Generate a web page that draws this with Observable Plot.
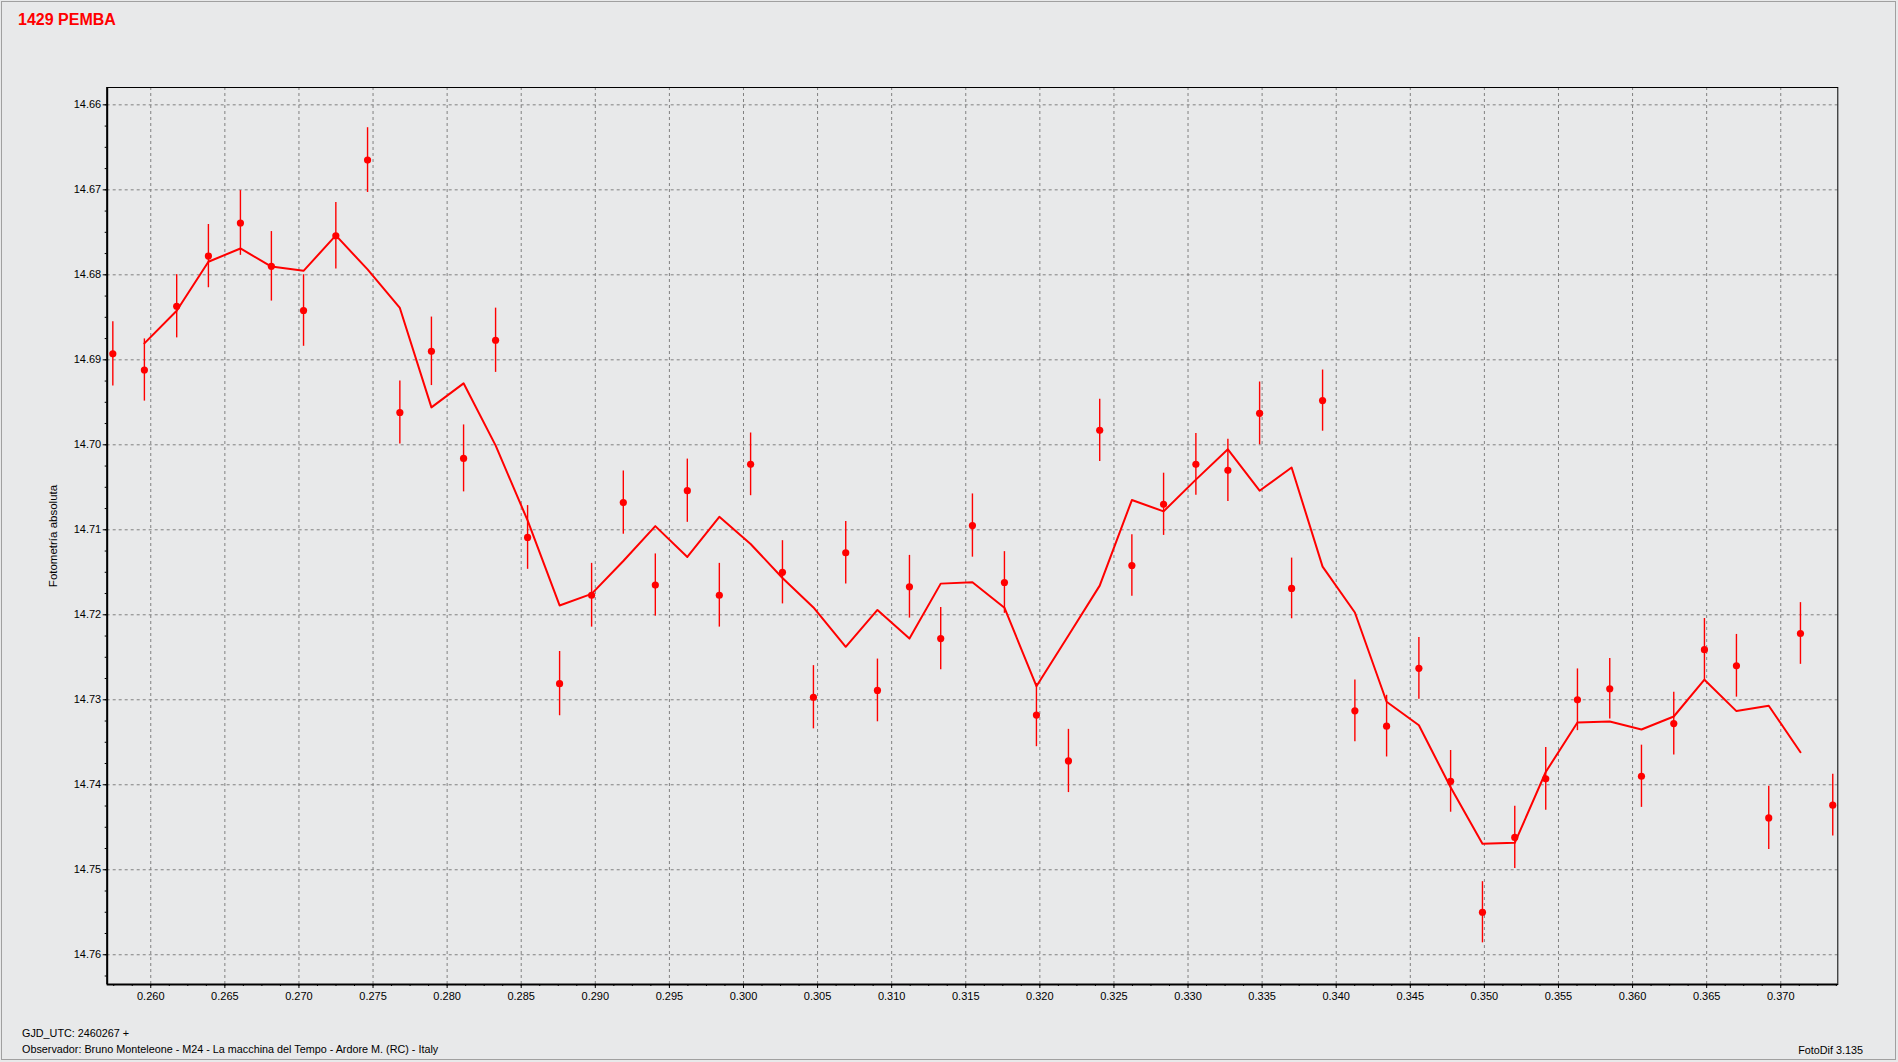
<!DOCTYPE html>
<html>
<head>
<meta charset="utf-8">
<script src="https://cdn.jsdelivr.net/npm/d3@7"></script>
<script src="https://cdn.jsdelivr.net/npm/@observablehq/plot@0.6"></script>
<style>
  html, body { margin: 0; padding: 0; background: #e8e9ea; }
  #wrap { position: relative; width: 1898px; height: 1062px; overflow: hidden; background: #e8e9ea; }
  #border { position: absolute; left: 1px; top: 1px; width: 1893px; height: 1057px; border: 1px solid #a0a0a0; pointer-events: none; }
  #title { position: absolute; left: 18px; top: 11.5px; font: bold 16px/16px "Liberation Sans", Arial, sans-serif; color: #ff0000; white-space: nowrap; }
  .foot { position: absolute; font: 10.8px/11px "Liberation Sans", Arial, sans-serif; color: #000; white-space: nowrap; }
  #ylabel { position: absolute; left: 53px; top: 535.5px; transform: translate(-50%, -50%) rotate(-90deg); font: 11.5px/12px "Liberation Sans", Arial, sans-serif; color: #000; white-space: nowrap; }
  #chart { position: absolute; left: 0; top: 0; }
</style>
</head>
<body>
<div id="wrap">
  <div id="chart"></div>
  <div id="border"></div>
  <div id="title">1429 PEMBA</div>
  <div id="ylabel">Fotometría absoluta</div>
  <div class="foot" style="left:22px; top:1028px;">GJD_UTC: 2460267 +</div>
  <div class="foot" style="left:22px; top:1044px;">Observador: Bruno Monteleone - M24 - La macchina del Tempo - Ardore M. (RC) - Italy</div>
  <div class="foot" style="right:35px; top:1044.5px;">FotoDif 3.135</div>
</div>
<script>
// GJD_UTC - 2460267 (days)
const gjd = [0.25744,0.25957,0.26175,0.26389,0.26605,0.26814,0.27031,0.27249,0.27463,0.27681,0.27894,
             0.28111,0.28327,0.28543,0.28759,0.28975,0.29189,0.29405,0.29621,0.29837,0.30048,
             0.30263,0.30472,0.30690,0.30904,0.31120,0.31331,0.31545,0.31761,0.31977,0.32193,
             0.32404,0.32621,0.32835,0.33053,0.33269,0.33483,0.33699,0.33908,0.34126,0.34340,
             0.34558,0.34772,0.34987,0.35205,0.35414,0.35628,0.35846,0.36060,0.36278,0.36485,
             0.36701,0.36919,0.37133,0.37351];
// Fotometría absoluta (mag)
const mag = [14.6893,14.6912,14.6837,14.6778,14.6739,14.6790,14.6842,14.6754,14.6665,14.6962,14.6890,
             14.7016,14.6877,14.7109,14.7281,14.7177,14.7068,14.7165,14.7054,14.7177,14.7023,
             14.7150,14.7297,14.7127,14.7289,14.7167,14.7228,14.7095,14.7162,14.7318,14.7372,
             14.6983,14.7142,14.7070,14.7023,14.7030,14.6963,14.7169,14.6948,14.7313,14.7331,
             14.7263,14.7396,14.7550,14.7462,14.7393,14.7300,14.7287,14.7390,14.7328,14.7241,
             14.7260,14.7439,14.7222,14.7424];
// error (mag)
const err = [0.00378,0.00366,0.00372,0.00372,0.00381,0.00409,0.00421,0.00391,0.00381,0.00372,0.00403,
             0.00394,0.00378,0.00375,0.00378,0.00375,0.00372,0.00366,0.00372,0.00375,0.00369,
             0.00372,0.00372,0.00369,0.00369,0.00369,0.00366,0.00372,0.00363,0.00372,0.00372,
             0.00366,0.00363,0.00366,0.00363,0.00366,0.00369,0.00357,0.00360,0.00363,0.00363,
             0.00363,0.00363,0.00360,0.00366,0.00369,0.00363,0.00357,0.00366,0.00369,0.00366,
             0.00369,0.00372,0.00363,0.00363];

const xTicks = [0.260,0.265,0.270,0.275,0.280,0.285,0.290,0.295,0.300,0.305,0.310,0.315,
                0.320,0.325,0.330,0.335,0.340,0.345,0.350,0.355,0.360,0.365,0.370];
const yTicks = [14.66,14.67,14.68,14.69,14.70,14.71,14.72,14.73,14.74,14.75,14.76];
const xDomain = [0.25706, 0.37385];
const yDomain = [14.65796, 14.7635];
const xMinor = d3.range(0, 94).map(i => 0.2575 + i * 0.00125).filter(v => v <= xDomain[1]);
const yMinor = d3.range(0, 42).map(i => 14.66 + i * 0.0025).filter(v => v <= yDomain[1]);

const data = gjd.map((x, i) => ({x, y: mag[i], e: err[i]}));
const RED = "#ff0000";
const GRID = {stroke: "#808080", strokeOpacity: 1, strokeWidth: 1, strokeDasharray: "3,3"};

const chart = Plot.plot({
  width: 1898,
  height: 1062,
  marginLeft: 106.7,
  marginTop: 87,
  marginRight: 60.7,
  marginBottom: 78,
  style: {background: "transparent", fontFamily: "'Liberation Sans', Arial, sans-serif", fontSize: "11px", color: "black", overflow: "visible"},
  x: {domain: xDomain},
  y: {domain: yDomain, reverse: true},
  marks: [
    Plot.gridX(xTicks, GRID),
    Plot.gridY(yTicks, GRID),
    Plot.axisX(xMinor, {tickSize: 2, fill: "none", label: null, stroke: "black"}),
    Plot.axisX(xTicks, {tickSize: 4, tickPadding: 4, tickFormat: d3.format(".3f"), label: null, fontSize: 11, fill: "black", stroke: "black"}),
    Plot.axisY(yMinor, {tickSize: 2, fill: "none", label: null, stroke: "black"}),
    Plot.axisY(yTicks, {tickSize: 4, tickPadding: 2, tickFormat: d3.format(".2f"), label: null, fontSize: 11, fill: "black", stroke: "black"}),
    Plot.frame({stroke: "black", strokeWidth: 1}),
    Plot.ruleX([xDomain[0]], {stroke: "black", strokeWidth: 2}),
    Plot.ruleY([yDomain[1]], {stroke: "black", strokeWidth: 2}),
    Plot.ruleX(data, {x: "x", y1: d => d.y - d.e, y2: d => d.y + d.e, stroke: RED, strokeWidth: 1.4}),
    Plot.line(data, Plot.windowY({k: 3, anchor: "middle", strict: true}, {x: "x", y: "y", stroke: RED, strokeWidth: 2})),
    Plot.dot(data, {x: "x", y: "y", r: 3.6, fill: RED, stroke: "none"})
  ]
});
document.getElementById("chart").appendChild(chart);
</script>
</body>
</html>
